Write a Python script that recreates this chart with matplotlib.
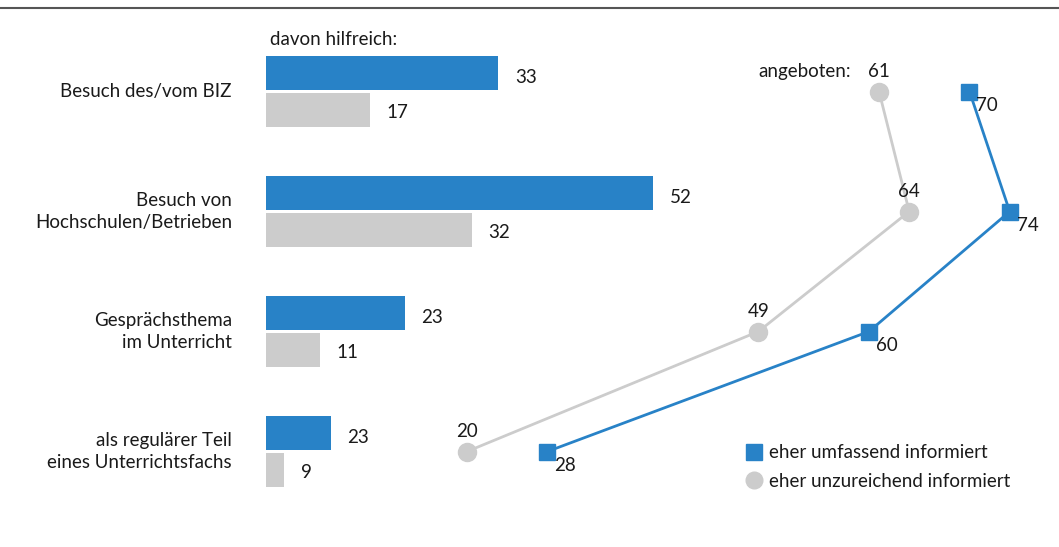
import numpy as np
import matplotlib
matplotlib.use('Agg')
import matplotlib.pyplot as plt
from matplotlib.lines import Line2D

plt.rcParams['font.family'] = ['Lato', 'DejaVu Sans']

# Data
categories = ['Besuch des/vom BIZ', 'Besuch von\nHochschulen/Betrieben',
              'Gesprächsthema\nim Unterricht', 'als regulärer Teil\neines Unterrichtsfachs']
offered_good = [70, 74, 60, 28]     # angeboten, eher umfassend informiert
offered_poor = [61, 64, 49, 20]     # angeboten, eher unzureichend informiert
helpful_good = [33, 52, 23, 23]     # davon hilfreich (%)
helpful_poor = [17, 32, 11, 9]
series_names = ['eher umfassend informiert', 'eher unzureichend informiert']

blue = '#2882c7'
grey = '#cccccc'
txt = '#1a1a1a'

# bar length = share of all pupils (helpful share of those offered)
bar_good = np.array(helpful_good) * np.array(offered_good) / 100
bar_poor = np.array(helpful_poor) * np.array(offered_poor) / 100

W, H = 1059, 547
fig = plt.figure(figsize=(W / 100, H / 100), dpi=100)
ax = fig.add_axes([0, 0, 1, 1])
ax.axis('off')

# 10.05 px per unit, zero at x=266 px; rows 120 px apart starting at 91.5 px
px = 10.05
ax.set_xlim(-266 / px, (W - 266) / px)
ax.set_ylim((H - 91.5) / 120, -91.5 / 120)

y = np.arange(len(categories))
bh = 34 / 120
off = 18.5 / 120

ax.barh(y - off, bar_good, height=bh, color=blue)
ax.barh(y + off, bar_poor, height=bh, color=grey)

fs = 13.5
for i in range(len(categories)):
    ax.annotate(str(helpful_good[i]), (bar_good[i], y[i] - off), xytext=(12, -3),
                textcoords='offset points', ha='left', va='center', fontsize=fs, color=txt)
    ax.annotate(str(helpful_poor[i]), (bar_poor[i], y[i] + off), xytext=(12, -2),
                textcoords='offset points', ha='left', va='center', fontsize=fs, color=txt)
    ax.text(-34 / px, y[i], categories[i], ha='right', va='center', fontsize=fs,
            color=txt, linespacing=1.35)

# lines for "angeboten"
ax.plot(offered_poor, y, color=grey, lw=2, marker='o', ms=13, mec=grey, zorder=3)
ax.plot(offered_good, y, color=blue, lw=2, marker='s', ms=12, mec=blue, zorder=3)

for i in range(len(categories)):
    ax.annotate(str(offered_poor[i]), (offered_poor[i], y[i]), xytext=(0, 8),
                textcoords='offset points', ha='center', va='bottom', fontsize=fs, color=txt)
    ax.annotate(str(offered_good[i]), (offered_good[i], y[i]), xytext=(5, -10),
                textcoords='offset points', ha='left', va='center', fontsize=fs, color=txt)

ax.annotate('angeboten:', (offered_poor[0], y[0]), xytext=(-20, 8),
            textcoords='offset points', ha='right', va='bottom', fontsize=fs, color=txt)
ax.annotate('davon hilfreich:', (0, y[0] - off), xytext=(3, 18),
            textcoords='offset points', ha='left', va='bottom', fontsize=fs, color=txt)

# top rule
fig.add_artist(Line2D([0, 1], [1 - 8 / H, 1 - 8 / H], color='#555555', lw=1.5))

handles = [Line2D([], [], ls='none', marker='s', ms=11, color=blue),
           Line2D([], [], ls='none', marker='o', ms=12, color=grey)]
ax.legend(handles, series_names, loc='upper left', frameon=False,
          bbox_to_anchor=(735 / W, 1 - 437 / H), fontsize=fs, handletextpad=0.2,
          labelspacing=0.6, borderaxespad=0, handlelength=1.2,
          labelcolor=txt)

fig.savefig('out.png', dpi=100)
